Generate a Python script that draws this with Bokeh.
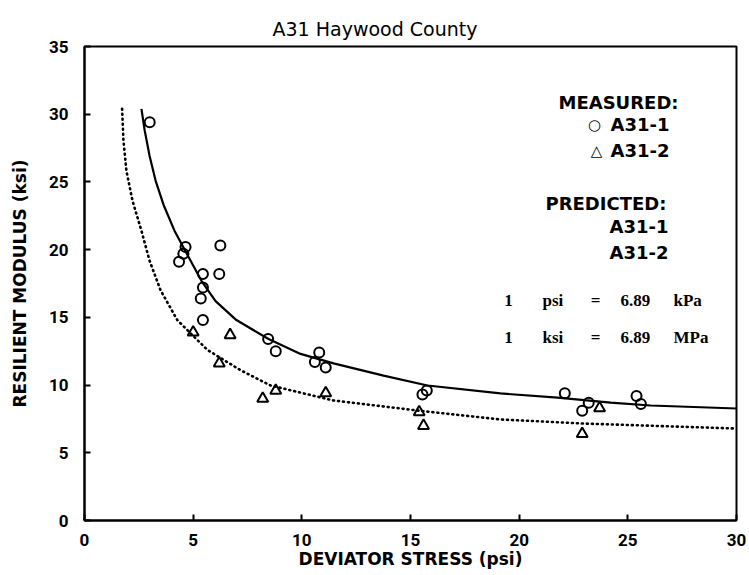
from bokeh.plotting import figure
from bokeh.models import Range1d, FixedTicker, Label
from bokeh.embed import file_html
from bokeh.resources import INLINE

# ---- data ----
title_text = "A31 Haywood County"
x_label = "DEVIATOR STRESS (psi)"
y_label = "RESILIENT MODULUS (ksi)"
x_ticks = [0, 5, 10, 15, 20, 25, 30]
y_ticks = [0, 5, 10, 15, 20, 25, 30, 35]

# measured A31-1 (circles)
stress_1 = [3.0, 4.65, 4.55, 4.35, 5.45, 6.25, 6.2, 5.45, 5.35, 5.45,
            8.45, 8.8, 10.6, 10.8, 11.1, 15.55, 15.75, 22.1, 22.9, 23.2, 25.4, 25.6]
modulus_1 = [29.4, 20.2, 19.7, 19.1, 18.2, 20.3, 18.2, 17.2, 16.4, 14.8,
             13.4, 12.5, 11.7, 12.4, 11.3, 9.3, 9.6, 9.4, 8.1, 8.7, 9.2, 8.6]

# measured A31-2 (triangles)
stress_2 = [5.0, 6.7, 6.2, 8.2, 8.8, 11.1, 15.4, 15.6, 22.9, 23.7]
modulus_2 = [13.9, 13.7, 11.6, 9.0, 9.6, 9.4, 8.0, 7.0, 6.4, 8.3]

# predicted A31-1 (solid curve)
pred_x1 = [2.62, 2.77, 2.99, 3.27, 3.64, 4.14, 4.74, 5.38, 6.03, 6.99, 8.47,
           9.94, 11.46, 13.76, 15.78, 19.14, 21.77, 24.21, 26.05, 30.0]
pred_y1 = [30.4, 28.8, 26.96, 25.1, 23.3, 21.4, 19.6, 17.7, 16.2, 14.8, 13.4,
           12.3, 11.6, 10.7, 9.97, 9.38, 9.08, 8.71, 8.49, 8.27]

# predicted A31-2 (dotted curve)
pred_x2 = [1.73, 1.79, 1.93, 2.21, 2.62, 2.99, 3.50, 4.27, 5.65, 7.18, 8.56,
           11.46, 15.32, 19.14, 22.96, 30.0]
pred_y2 = [30.4, 28.1, 25.8, 23.6, 21.4, 19.2, 17.0, 14.8, 12.6, 11.1, 9.97,
           8.86, 8.12, 7.46, 7.16, 6.79]

legend_measured = "MEASURED:"
legend_predicted = "PREDICTED:"
series_names = ["A31-1", "A31-2"]
conv_rows = [["1", "psi", "=", "6.89", "kPa"], ["1", "ksi", "=", "6.89", "MPa"]]

# ---- figure ----
p = figure(width=749, height=575, output_backend="svg", toolbar_location=None,
           x_range=Range1d(0, 30), y_range=Range1d(0, 35),
           min_border_left=84, min_border_right=13, min_border_top=46,
           min_border_bottom=55, background_fill_color="white",
           border_fill_color="white", outline_line_color="black",
           outline_line_width=2, title=title_text)
p.grid.visible = False

p.title.align = "left"
p.title.offset = 188
p.title.text_font = "DejaVu Sans"
p.title.text_font_size = "19px"
p.title.text_font_style = "normal"
p.title.text_color = "black"
p.title.vertical_align = "top"
p.title.standoff = 10

tick_font = "Roboto"
label_font = "DejaVu Sans"

for ax, ticks in ((p.xaxis, x_ticks), (p.yaxis, y_ticks)):
    ax.ticker = FixedTicker(ticks=ticks)
    ax.axis_line_width = 2
    ax.axis_line_color = "black"
    ax.major_tick_in = 6
    ax.major_tick_out = 0
    ax.major_tick_line_width = 2
    ax.minor_tick_line_color = None
    ax.major_label_text_font = tick_font
    ax.major_label_text_font_style = "bold"
    ax.major_label_text_font_size = "17px"
    ax.major_label_text_color = "black"
    ax.axis_label_text_font = label_font
    ax.axis_label_text_font_style = "bold"
    ax.axis_label_text_font_size = "17px"
    ax.axis_label_text_color = "black"

p.xaxis.axis_label = x_label
p.yaxis.axis_label = y_label
p.xaxis.major_label_standoff = 13
p.xaxis.axis_label_standoff = 0
p.yaxis.major_label_standoff = 16
p.yaxis.axis_label_standoff = 16

# curves
p.line(pred_x1, pred_y1, line_color="black", line_width=2.2)
p.line(pred_x2, pred_y2, line_color="black", line_width=2.6,
       line_dash="1 4", line_cap="round")

# measured points
p.scatter(stress_1, modulus_1, marker="circle", size=10, fill_color=None,
          line_color="black", line_width=2)
p.scatter(stress_2, modulus_2, marker="triangle", size=11, fill_color=None,
          line_color="black", line_width=2)

# ---- texts (screen units relative to the frame: left=84, bottom=520) ----
FL, FB = 84, 520

def add_label(px, py, text, font=label_font, size="18px", style="bold",
              align="left"):
    p.add_layout(Label(x=px - FL, y=FB - py, x_units="screen", y_units="screen",
                       text=text, text_font=font, text_font_size=size,
                       text_font_style=style, text_align=align,
                       text_baseline="middle", text_color="black"))

add_label(558, 102, legend_measured)
add_label(594, 124, "\u25cb", size="15px", align="center")
add_label(610, 124, series_names[0])
add_label(596, 150, "\u25b3", size="15px", align="center")
add_label(610, 150, series_names[1])
add_label(545, 203, legend_predicted)
add_label(609, 226, series_names[0])
add_label(609, 252, series_names[1])

serif = "Liberation Serif"
for row, py in zip(conv_rows, (300, 337)):
    add_label(508, py, row[0], font=serif, size="17px", align="center")
    add_label(542, py, row[1], font=serif, size="17px")
    add_label(595, py, row[2], font=serif, size="17px", align="center")
    add_label(620, py, row[3], font=serif, size="17px")
    add_label(673, py, row[4], font=serif, size="17px")

open("out.html", "w").write(file_html(p, INLINE))
